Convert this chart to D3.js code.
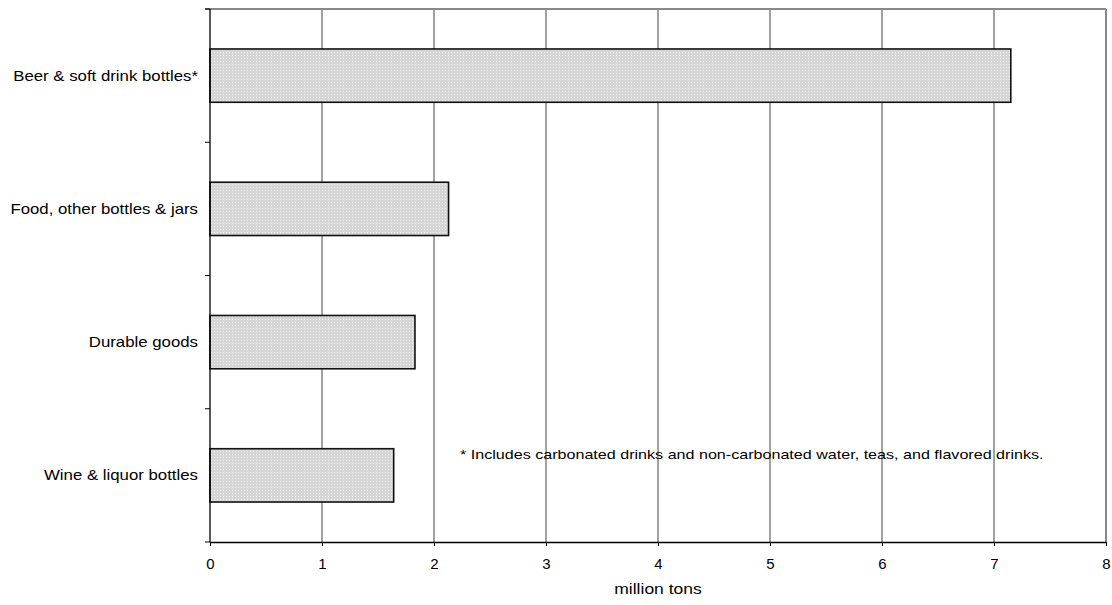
<!DOCTYPE html>
<html><head><meta charset="utf-8">
<script src="https://cdn.jsdelivr.net/npm/d3@7"></script>
<style>
body{margin:0;background:#fff;}
text{font-family:"Liberation Sans",Arial,sans-serif;fill:#000;}
</style></head>
<body><svg id="c" width="1112" height="605"></svg>
<script>
const categories = ["Beer & soft drink bottles*", "Food, other bottles & jars", "Durable goods", "Wine & liquor bottles"];
const values = [7.15, 2.13, 1.83, 1.64];
const xTicks = [0,1,2,3,4,5,6,7,8];
const xTitle = "million tons";
const footnote = "* Includes carbonated drinks and non-carbonated water, teas, and flavored drinks.";

const svg = d3.select("#c");
const L=210, R=1106, T=9, B=542;
const x = d3.scaleLinear().domain([0,8]).range([L,R]);
const y = d3.scaleBand().domain(categories).range([T,B]).paddingInner(0.6).paddingOuter(0.3);

const defs = svg.append("defs");
const pat = defs.append("pattern").attr("id","dots").attr("width",3).attr("height",3).attr("patternUnits","userSpaceOnUse");
pat.append("rect").attr("width",3).attr("height",3).attr("fill","#d6d6d6");
pat.append("rect").attr("x",1).attr("y",1).attr("width",1).attr("height",1).attr("fill","#f2f2f2");

// gridlines
svg.append("g").selectAll("line").data(xTicks.slice(1,-1)).join("line")
  .attr("x1",d=>x(d)).attr("x2",d=>x(d)).attr("y1",T).attr("y2",B)
  .attr("stroke","#444").attr("stroke-width",1);
// top & right border
svg.append("line").attr("x1",L-5).attr("x2",R).attr("y1",T).attr("y2",T).attr("stroke","#888").attr("stroke-width",2);
svg.append("line").attr("x1",R).attr("x2",R).attr("y1",T).attr("y2",B).attr("stroke","#888").attr("stroke-width",2);

// bars
svg.append("g").selectAll("rect").data(values).join("rect")
  .attr("x",x(0)).attr("y",(d,i)=>y(categories[i]))
  .attr("width",d=>x(d)-x(0)).attr("height",y.bandwidth())
  .attr("fill","url(#dots)").attr("stroke","#111").attr("stroke-width",1.6);

// x axis
const xa = svg.append("g").attr("transform",`translate(0,${B})`)
  .call(d3.axisBottom(x).tickValues(xTicks).tickSize(4).tickPadding(12).tickFormat(d3.format("d")));
xa.select(".domain").attr("stroke","#000").attr("stroke-width",1.3).attr("d",`M${L},0.5H${R}`);
xa.selectAll(".tick line").attr("stroke","#000");
xa.selectAll("text").attr("font-size",15).attr("font-family","Liberation Sans, Arial, sans-serif");

// y axis: ticks at band boundaries
const bounds = d3.range(categories.length+1).map(i=>T+i*(B-T)/categories.length);
svg.append("line").attr("x1",L).attr("x2",L).attr("y1",T).attr("y2",B).attr("stroke","#000").attr("stroke-width",1.3);
svg.append("g").selectAll("line").data(bounds).join("line")
  .attr("x1",L-5).attr("x2",L).attr("y1",d=>d).attr("y2",d=>d).attr("stroke","#000");
svg.append("g").selectAll("text").data(categories).join("text")
  .attr("transform",d=>`translate(${L-12},${y(d)+y.bandwidth()/2}) scale(1.2,1)`)
  .attr("dy","0.35em")
  .attr("text-anchor","end").attr("font-size",14).text(d=>d);

svg.append("text").attr("transform",`translate(${x(4)},594) scale(1.25,1)`).attr("text-anchor","middle").attr("font-size",14).text(xTitle);
svg.append("text").attr("transform",`translate(460,459) scale(1.24,1)`).attr("font-size",13).text(footnote);
</script></body></html>
